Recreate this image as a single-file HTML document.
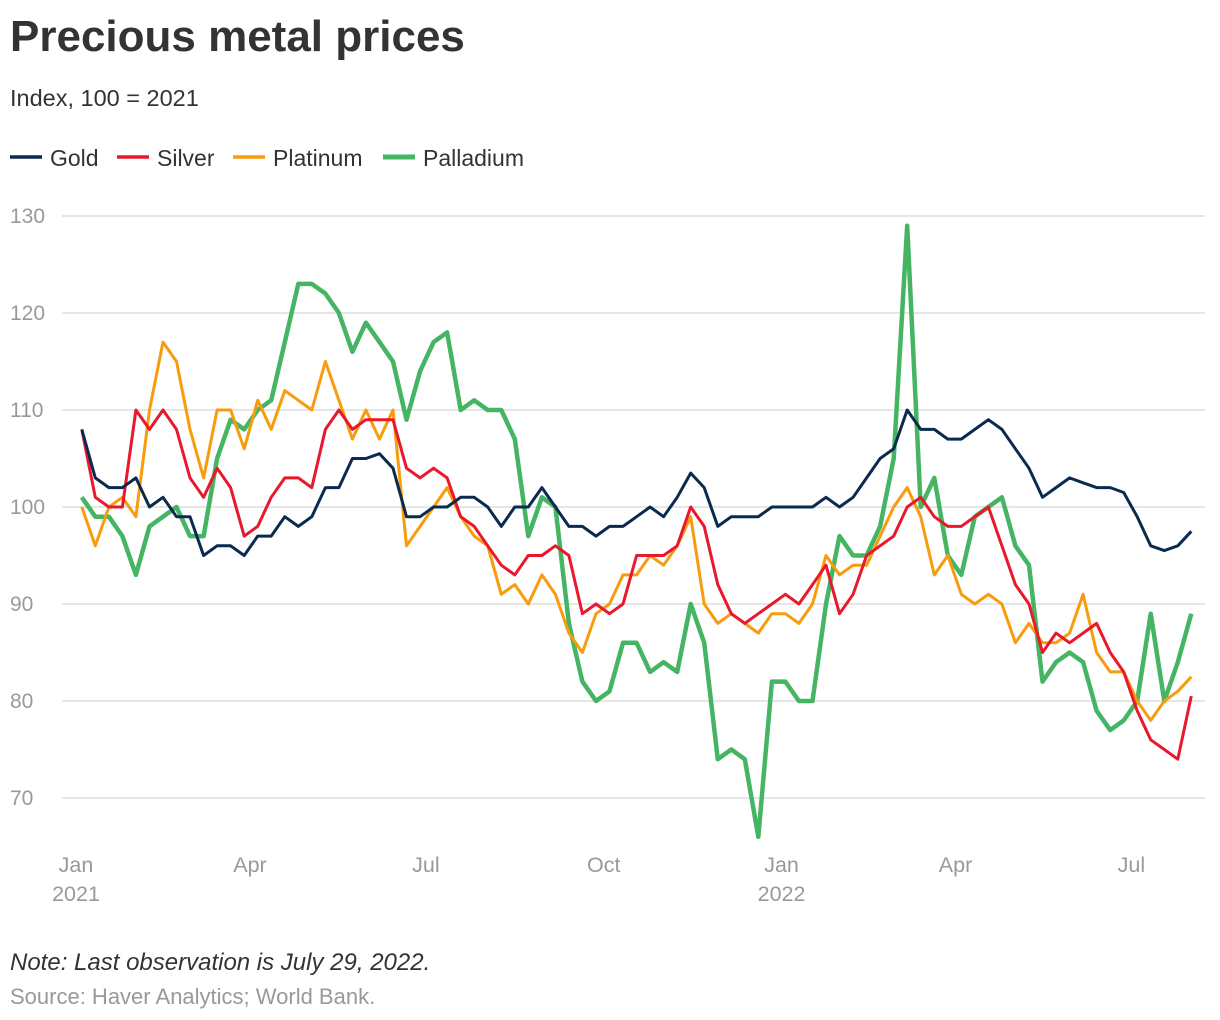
<!DOCTYPE html>
<html><head><meta charset="utf-8"><style>
body{margin:0;background:#fff;font-family:"Liberation Sans",Arial,sans-serif;}
svg{display:block}
</style></head><body>
<svg id="chart" width="1220" height="1020">
<text x="10" y="51" font-size="44" font-weight="bold" fill="#333">Precious metal prices</text>
<text x="10" y="106" font-size="23.5" fill="#333">Index, 100 = 2021</text>
<g>
<g><line x1="10" y1="157" x2="42" y2="157" stroke="#0a2a50" stroke-width="3.5"/><text x="50" y="166" font-size="23" fill="#333">Gold</text></g>
<g><line x1="117" y1="157" x2="149" y2="157" stroke="#e8192c" stroke-width="3.5"/><text x="157" y="166" font-size="23" fill="#333">Silver</text></g>
<g><line x1="233" y1="157" x2="265" y2="157" stroke="#f89c0e" stroke-width="3.5"/><text x="273" y="166" font-size="23" fill="#333">Platinum</text></g>
<g><line x1="383" y1="157" x2="415" y2="157" stroke="#45b563" stroke-width="5"/><text x="423" y="166" font-size="23" fill="#333">Palladium</text></g>
</g>
<g id="grid"></g>
<g id="yticks"></g>
<g id="xticks"></g>
<g id="series"></g>
<text x="10" y="970" font-size="24" font-style="italic" fill="#333">Note: Last observation is July 29, 2022.</text>
<text x="10" y="1004" font-size="22" fill="#999">Source: Haver Analytics; World Bank.</text>
</svg>
<script>
const yTicks = [70, 80, 90, 100, 110, 120, 130];
const xTickLabels = ["Jan", "Apr", "Jul", "Oct", "Jan", "Apr", "Jul"];
const xTickYears = ["2021", "", "", "", "2022", "", ""];
const xTickDays = [0, 90, 181, 273, 365, 455, 546];
// weekly observations, day offset from Jan 1 2021 = 3 + 7*i
const gold = [108,103,102,102,103,100,101,99,99,95,96,96,95,97,97,99,98,99,102,102,105,105,105.5,104,99,99,100,100,101,101,100,98,100,100,102,100,98,98,97,98,98,99,100,99,101,103.5,102,98,99,99,99,100,100,100,100,101,100,101,103,105,106,110,108,108,107,107,108,109,108,106,104,101,102,103,102.5,102,102,101.5,99,96,95.5,96,97.5];
const silver = [108,101,100,100,110,108,110,108,103,101,104,102,97,98,101,103,103,102,108,110,108,109,109,109,104,103,104,103,99,98,96,94,93,95,95,96,95,89,90,89,90,95,95,95,96,100,98,92,89,88,89,90,91,90,92,94,89,91,95,96,97,100,101,99,98,98,99,100,96,92,90,85,87,86,87,88,85,83,79,76,75,74,80.5];
const platinum = [100,96,100,101,99,110,117,115,108,103,110,110,106,111,108,112,111,110,115,111,107,110,107,110,96,98,100,102,99,97,96,91,92,90,93,91,87,85,89,90,93,93,95,94,96,99,90,88,89,88,87,89,89,88,90,95,93,94,94,97,100,102,99,93,95,91,90,91,90,86,88,86,86,87,91,85,83,83,80,78,80,81,82.5];
const palladium = [101,99,99,97,93,98,99,100,97,97,105,109,108,110,111,117,123,123,122,120,116,119,117,115,109,114,117,118,110,111,110,110,107,97,101,100,88,82,80,81,86,86,83,84,83,90,86,74,75,74,66,82,82,80,80,90,97,95,95,98,105,129,100,103,95,93,99,100,101,96,94,82,84,85,84,79,77,78,80,89,80,84,89];

function X(day){ return 76 + day*1.933; }
function Y(v){ return 798 - (v-70)*9.7; }
const NS="http://www.w3.org/2000/svg";
const grid=document.getElementById('grid'), yt=document.getElementById('yticks'), xt=document.getElementById('xticks'), ser=document.getElementById('series');
yTicks.forEach(v=>{
  const l=document.createElementNS(NS,'line');
  l.setAttribute('x1',62); l.setAttribute('x2',1205); l.setAttribute('y1',Y(v)); l.setAttribute('y2',Y(v));
  l.setAttribute('stroke','#ddd'); l.setAttribute('stroke-width','1.5');
  
  
  grid.appendChild(l);
  const t=document.createElementNS(NS,'text');
  t.setAttribute('x',10); t.setAttribute('y',Y(v)+7); t.setAttribute('font-size','21'); t.setAttribute('fill','#999');
  t.textContent=v;
  
  
  yt.appendChild(t);
});
xTickDays.forEach((d,i)=>{
  const t=document.createElementNS(NS,'text');
  t.setAttribute('x',X(d)); t.setAttribute('y',872); t.setAttribute('font-size','21.5'); t.setAttribute('fill','#999'); t.setAttribute('text-anchor','middle');
  t.textContent=xTickLabels[i];
  
  
  xt.appendChild(t);
  if(xTickYears[i]){
    const t2=document.createElementNS(NS,'text');
    t2.setAttribute('x',X(d)); t2.setAttribute('y',901); t2.setAttribute('font-size','21.5'); t2.setAttribute('fill','#999'); t2.setAttribute('text-anchor','middle');
    t2.textContent=xTickYears[i];
    
    
    xt.appendChild(t2);
  }
});
function drawLine(vals,color,w,name){
  const p=document.createElementNS(NS,'path');
  p.setAttribute('d',vals.map((v,i)=>(i?'L':'M')+X(3+7*i).toFixed(1)+','+Y(v).toFixed(1)).join(''));
  p.setAttribute('fill','none'); p.setAttribute('stroke',color); p.setAttribute('stroke-width',w); p.setAttribute('stroke-linejoin','round');
  
  
  ser.appendChild(p);
}
drawLine(palladium,'#45b563',4.5,'palladium-line');
drawLine(platinum,'#f89c0e',3,'platinum-line');
drawLine(silver,'#e8192c',3,'silver-line');
drawLine(gold,'#0a2a50',3,'gold-line');
</script>
</body></html>
